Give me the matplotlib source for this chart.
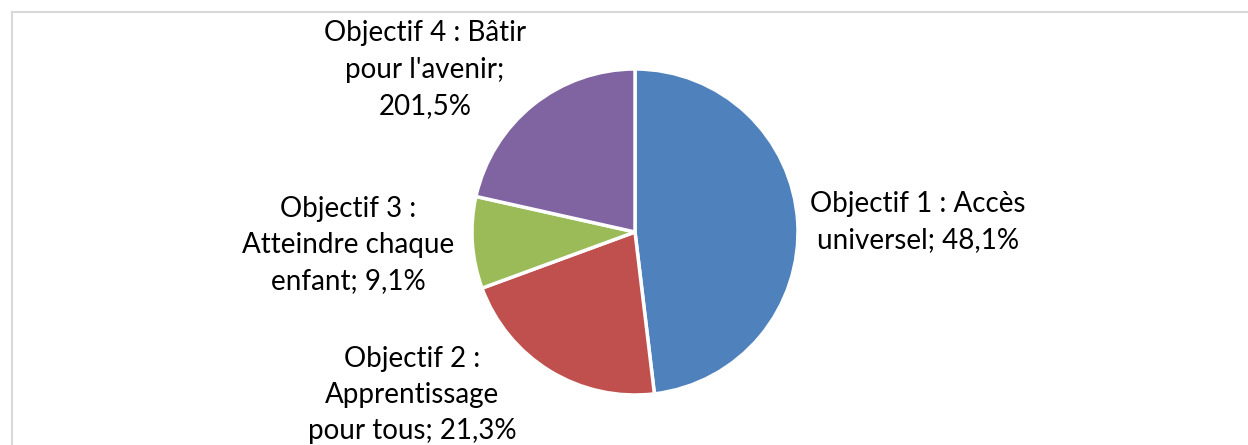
import matplotlib.pyplot as plt
from matplotlib.lines import Line2D

labels = ["Objectif 1 : Accès\nuniversel; 48,1%",
          "Objectif 2 :\nApprentissage\npour tous; 21,3%",
          "Objectif 3 :\nAtteindre chaque\nenfant; 9,1%",
          "Objectif 4 : Bâtir\npour l'avenir;\n201,5%"]
values = [48.1, 21.3, 9.1, 21.5]
colors = ["#4F81BD", "#C0504D", "#9BBB59", "#8064A2"]

# label centres in pixels (x, y from top)
label_pos = [(918, 222), (412, 395), (348, 245), (425, 70)]

W, H = 1248, 445
fig = plt.figure(figsize=(W / 100, H / 100), dpi=100)
plt.rcParams['font.family'] = ['Lato', 'DejaVu Sans']

cx, cy, r = 635, 232, 163
ax = fig.add_axes([(cx - r) / W, (H - cy - r) / H, 2 * r / W, 2 * r / H])
ax.pie(values, colors=colors, startangle=90, counterclock=False,
       wedgeprops=dict(edgecolor="white", linewidth=2.5))
ax.set_xlim(-1, 1)
ax.set_ylim(-1, 1)
ax.set_aspect("equal")
ax.axis("off")

for text, (x, y) in zip(labels, label_pos):
    fig.text(x / W, 1 - y / H, text, ha="center", va="center",
             fontsize=20, linespacing=1.5, color="black")

# chart border
fig.add_artist(Line2D([11.5 / W, 11.5 / W], [0, 1 - 11.5 / H],
                      color="#D9D9D9", linewidth=1.5))
fig.add_artist(Line2D([11.5 / W, 1], [1 - 11.5 / H, 1 - 11.5 / H],
                      color="#D9D9D9", linewidth=1.5))

fig.savefig("out.png", dpi=100)
